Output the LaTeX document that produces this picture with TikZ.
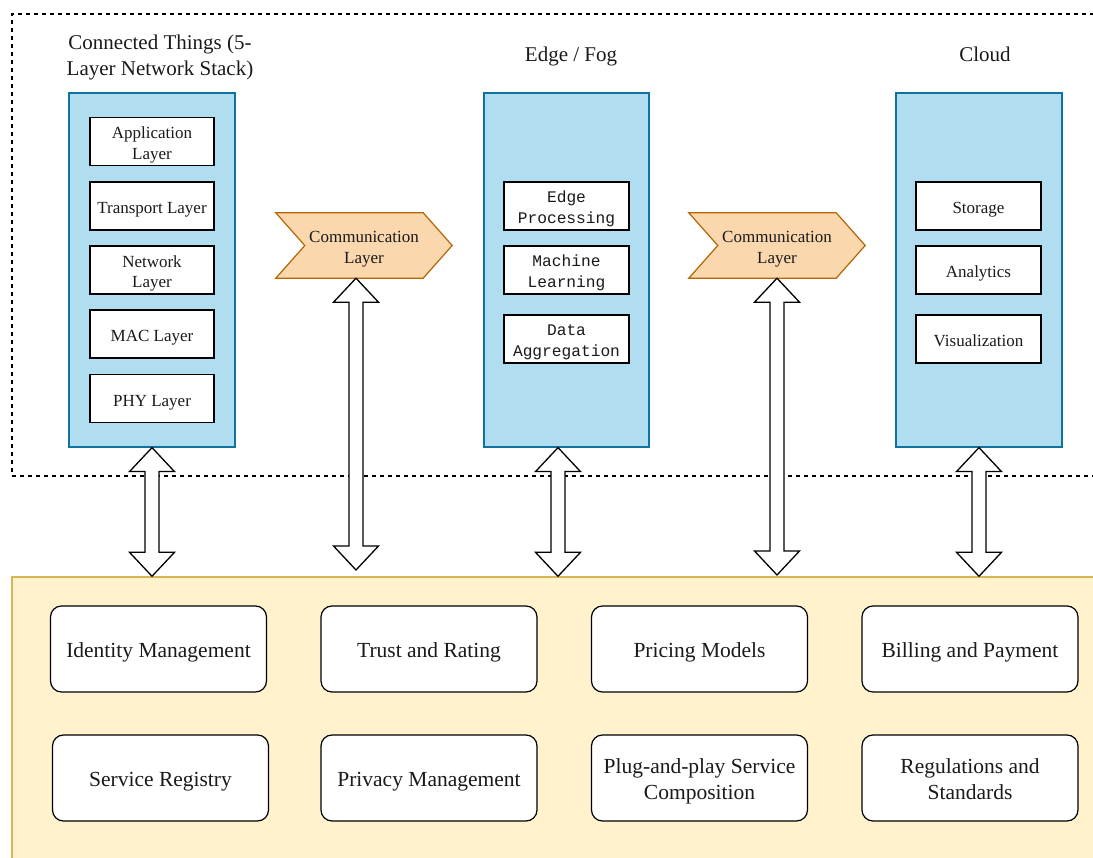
\documentclass[tikz,border=0pt]{standalone}
\usepackage{fontspec}
\setmainfont{Liberation Serif}
\setmonofont{Liberation Mono}
\usetikzlibrary{calc,backgrounds}
\definecolor{bluefill}{HTML}{B1DDF0}
\definecolor{bluestroke}{HTML}{10739E}
\definecolor{orfill}{HTML}{FAD7AC}
\definecolor{orstroke}{HTML}{B46504}
\definecolor{yfill}{HTML}{FFF2CC}
\definecolor{ystroke}{HTML}{D6B656}
\definecolor{txt}{HTML}{1A1A1A}
\newcommand\dn[2][-3.5pt]{\raisebox{#1}[\height][\depth]{\begin{tabular}{@{}c@{}}#2\end{tabular}}}
\tikzset{
  colbox/.style={draw=bluestroke,fill=bluefill,line width=1.2pt,minimum width=166pt,minimum height=354pt,inner sep=0pt},
  layerbox/.style={draw=black,fill=white,line width=1.2pt,minimum width=124pt,minimum height=48pt,inner sep=0pt,font=\fontsize{17}{20.5}\selectfont,text=txt},
  monobox/.style={layerbox,minimum width=125pt,font=\ttfamily\fontsize{16.2}{21.5}\selectfont},
  title/.style={align=center,font=\fontsize{21}{26}\selectfont,text=txt},
  commnode/.style={minimum width=176pt,minimum height=65pt,inner sep=0pt,font=\fontsize{17}{20.5}\selectfont,text=txt},
  commshape/.style={draw=orstroke,fill=orfill,line width=1.2pt,line join=miter},
  svcbox/.style={draw=black,fill=white,rounded corners=11pt,line width=1.2pt,minimum width=216pt,minimum height=86pt,inner sep=0pt,font=\fontsize{21.5}{26}\selectfont,text=txt},
  blockarr/.style={draw=black,fill=white,line width=1.3pt,line join=miter},
  frame/.style={draw=black,dashed,dash pattern=on 4pt off 4pt,line width=1.1pt,minimum width=1098pt,minimum height=462pt,inner sep=0pt},
  ybg/.style={draw=ystroke,fill=yfill,line width=1.4pt,minimum width=1098pt,minimum height=303pt,inner sep=0pt}
}
\newcommand\dblarrow[2]{%
  \draw[blockarr] let \p1=(#1), \p2=(#2) in
  (\x1,\y1) -- (\x1+22.5pt,\y1-24pt) -- (\x1+7pt,\y1-24pt) -- (\x1+7pt,\y2+24pt)
  -- (\x1+22.5pt,\y2+24pt) -- (\x1,\y2) -- (\x1-22.5pt,\y2+24pt) -- (\x1-7pt,\y2+24pt)
  -- (\x1-7pt,\y1-24pt) -- (\x1-22.5pt,\y1-24pt) -- cycle;}
\newcommand\stepshape[1]{%
  \draw[commshape] (#1.north west) -- ($(#1.north east)+(-29pt,0)$) -- (#1.east)
  -- ($(#1.south east)+(-29pt,0)$) -- (#1.south west) -- ($(#1.west)+(29pt,0)$) -- cycle;}
\begin{document}
\begin{tikzpicture}[x=1pt,y=-1pt]
\useasboundingbox (0,0) rectangle (1093,858);
\clip (0,0) rectangle (1093,858);
% frame and bottom area
\node[frame] (frm) at (561,245) {};
\node[ybg] (yb) at (561,728.5) {};
% titles
\node[title] (t1) at (160,57) {Connected Things (5-\\Layer Network Stack)};
\node[title] (t2) at (571,56) {Edge / Fog};
\node[title] (t3) at (985,54) {Cloud};
% columns
\node[colbox] (c1) at (152,270) {};
\node[colbox,minimum width=165pt] (c2) at (566.5,270) {};
\node[colbox] (c3) at (979,270) {};
% column 1 layers
\node[layerbox] (app) at (152,141.5) {\dn{Application\\Layer}};
\node[layerbox] (trn) at (152,206) {\dn{Transport Layer}};
\node[layerbox] (net) at (152,270) {\dn{Network\\Layer}};
\node[layerbox] (mac) at (152,334) {\dn{MAC Layer}};
\node[layerbox] (phy) at (152,398.5) {\dn{PHY Layer}};
% column 2
\node[monobox] (ep) at (566.5,206) {\dn[-2.5pt]{Edge\\Processing}};
\node[monobox] (ml) at (566.5,270) {\dn[-2.5pt]{Machine\\Learning}};
\node[monobox] (da) at (566.5,339) {\dn[-2.5pt]{Data\\Aggregation}};
% column 3
\node[layerbox,minimum width=125pt] (st) at (978.5,206) {\dn{Storage}};
\node[layerbox,minimum width=125pt] (an) at (978.5,270) {\dn{Analytics}};
\node[layerbox,minimum width=125pt] (vi) at (978.5,339) {\dn{Visualization}};
% communication layers
\node[commnode] (cm1) at (364,245.5) {\dn{Communication\\Layer}};
\node[commnode] (cm2) at (777,245.5) {\dn{Communication\\Layer}};
\begin{scope}[on background layer]
  \stepshape{cm1}
  \stepshape{cm2}
\end{scope}
% service boxes
\node[svcbox] (idm) at (158.5,649) {\dn{Identity Management}};
\node[svcbox] (trs) at (429,649) {\dn{Trust and Rating}};
\node[svcbox] (prc) at (699.5,649) {\dn{Pricing Models}};
\node[svcbox] (bil) at (970,649) {\dn{Billing and Payment}};
\node[svcbox] (reg) at (160.5,778) {\dn{Service Registry}};
\node[svcbox] (prv) at (429,778) {\dn{Privacy Management}};
\node[svcbox] (plg) at (699.5,778) {\dn{Plug-and-play Service\\Composition}};
\node[svcbox] (rgs) at (970,778) {\dn{Regulations and\\Standards}};
% block arrows
\coordinate (a2t) at ($(cm1.south)+(-8pt,0)$);
\coordinate (a2b) at (356,570);
\coordinate (a3t) at ($(c2.south)+(-8.5pt,0)$);
\coordinate (a4b) at (777,575);
\dblarrow{c1.south}{c1.south |- yb.north}
\dblarrow{a2t}{a2b}
\dblarrow{a3t}{a3t |- yb.north}
\dblarrow{cm2.south}{a4b}
\dblarrow{c3.south}{c3.south |- yb.north}
\end{tikzpicture}
\end{document}
